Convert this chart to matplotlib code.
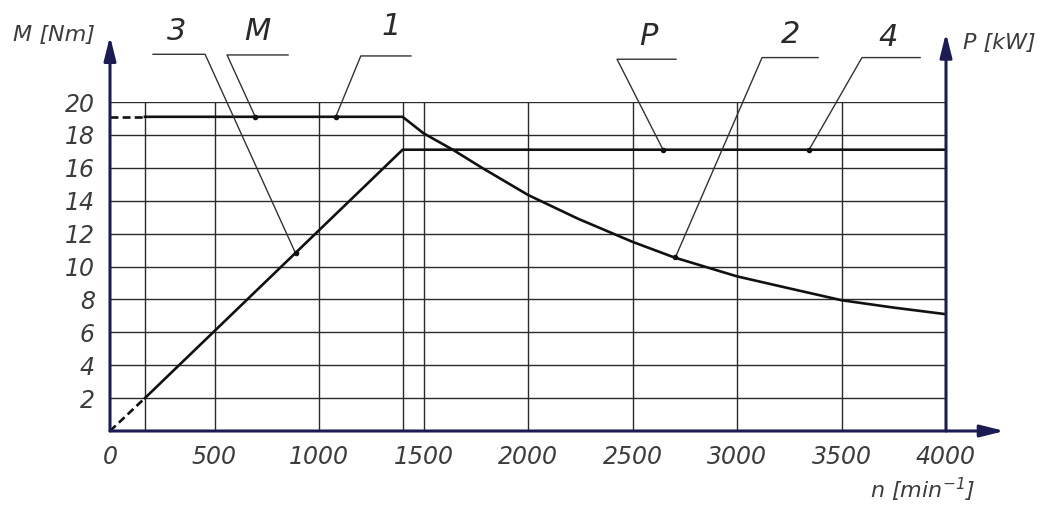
import matplotlib
matplotlib.use("Agg")
import matplotlib.pyplot as plt
from matplotlib import font_manager

# --- данные ---
# крутящий момент M [Nm] по оборотам n [min^-1]
torque_n = [167, 1400, 1500, 1640, 1780, 2000, 2240, 2500, 2700, 3000, 3240, 3500, 3750, 4000]
torque_m = [19.1, 19.1, 18.1, 17.1, 16.0, 14.35, 12.9, 11.5, 10.55, 9.4, 8.7, 7.95, 7.5, 7.1]
torque_dash_n = [0, 167]
torque_dash_m = [19.1, 19.1]

# мощность P [kW]
power_n = [167, 1400, 4000]
power_p = [2.0, 17.1, 17.1]
power_dash_n = [0, 167]
power_dash_p = [0, 2.0]

x_ticks = [0, 500, 1000, 1500, 2000, 2500, 3000, 3500, 4000]
y_ticks = [2, 4, 6, 8, 10, 12, 14, 16, 18, 20]
grid_x = [167, 500, 1000, 1400, 1500, 2000, 2500, 3000, 3500, 4000]
grid_y = [2, 4, 6, 8, 10, 12, 14, 16, 18, 20]

# выноски: текст, точка на кривой, положение подписи, полка (x от, x до)
leader_text = ["3", "M", "1", "P", "2", "4"]
leader_point = [(888, 10.8), (695, 19.1), (1080, 19.1), (2646, 17.1), (2705, 10.55), (3345, 17.1)]
leader_label = [(321, 24.3), (703, 24.3), (1345, 24.6), (2574, 24.0), (3254, 24.1), (3723, 23.9)]
leader_shelf = [(455, 206), (560, 852), (1200, 1440), (2426, 2708), (3120, 3388), (3598, 3876)]
leader_shelf_y = [22.9, 22.86, 22.8, 22.6, 22.7, 22.7]

# --- шрифт ---
names = {f.name for f in font_manager.fontManager.ttflist}
if "Liberation Sans Narrow" in names:
    FONT = "Liberation Sans Narrow"
    fs_tick, fs_lab, fs_axis = 21, 26, 19
else:
    FONT = "DejaVu Sans"
    fs_tick, fs_lab, fs_axis = 17, 22, 16
plt.rcParams["font.family"] = [FONT, "DejaVu Sans"]
plt.rcParams["font.style"] = "italic"

TXT = "#3c3c3c"
GRID = "#2a2a2a"
NAVY = "#1c1c55"

fig = plt.figure(figsize=(10.45, 5.05), dpi=100)
ax = fig.add_axes([110 / 1045, 74 / 505, 836 / 1045, 329 / 505])
ax.set_xlim(0, 4000)
ax.set_ylim(0, 20)
for s in ax.spines.values():
    s.set_visible(False)

# сетка
ax.vlines(grid_x, 0, 20, color=GRID, lw=1.0, zorder=1)
ax.hlines(grid_y, 0, 4000, color=GRID, lw=1.0, zorder=1)

# кривые
ax.plot(torque_n, torque_m, color="#111111", lw=1.9, zorder=3, solid_joinstyle="round")
ax.plot(torque_dash_n, torque_dash_m, color="#111111", lw=1.9, dashes=(3, 1.6), zorder=3)
ax.plot(power_n, power_p, color="#111111", lw=1.9, zorder=3)
ax.plot(power_dash_n, power_dash_p, color="#111111", lw=1.9, dashes=(3, 1.6), zorder=3)

# оси со стрелками
arrow = dict(arrowstyle="-|>,head_length=0.8,head_width=0.2", color=NAVY, lw=2.2,
             mutation_scale=18, shrinkA=0, shrinkB=0)
ax.annotate("", xy=(0, 24.0), xytext=(0, 0), arrowprops=arrow, annotation_clip=False, zorder=5)
ax.annotate("", xy=(4000, 24.2), xytext=(4000, 0), arrowprops=arrow, annotation_clip=False, zorder=5)
ax.annotate("", xy=(4280, 0), xytext=(0, 0), arrowprops=arrow, annotation_clip=False, zorder=5)

# подписи делений
ax.set_xticks(x_ticks, [str(v) for v in x_ticks])
ax.set_yticks(y_ticks, [str(v) for v in y_ticks])
ax.tick_params(length=0, colors=TXT, labelsize=fs_tick)
ax.tick_params(axis="x", pad=10)
ax.tick_params(axis="y", pad=11)

# подписи осей
ax.text(-268, 24.1, "M [Nm]", ha="center", va="center", color=TXT, fontsize=fs_axis, clip_on=False)
ax.text(4254, 23.6, "P [kW]", ha="center", va="center", color=TXT, fontsize=fs_axis, clip_on=False)
ax.text(3890, -3.6, "n [min$^{-1}$]", ha="center", va="center", color=TXT, fontsize=fs_axis,
        clip_on=False)

# выноски
for txt, (px, py), (lx, ly), (s0, s1), sy in zip(leader_text, leader_point, leader_label,
                                                  leader_shelf, leader_shelf_y):
    ax.plot([s1, s0, px], [sy, sy, py], color="#333333", lw=1.0, clip_on=False, zorder=4)
    ax.plot([px], [py], "o", color="#111111", ms=3, zorder=4)
    ax.text(lx, ly, txt, ha="center", va="center", color="#2a2a2a", fontsize=fs_lab, clip_on=False)

fig.savefig("out.png", dpi=100)
